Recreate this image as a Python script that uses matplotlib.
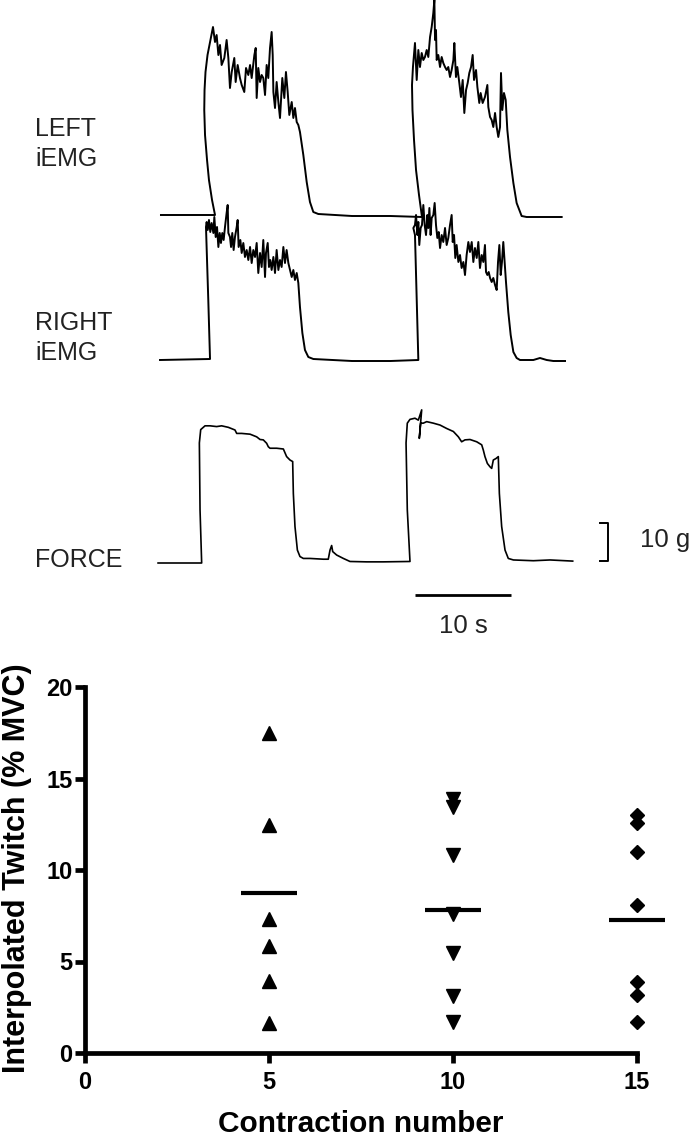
import matplotlib
matplotlib.use("Agg")
import matplotlib.pyplot as plt
import numpy as np

plt.rcParams['font.family'] = ['Liberation Sans', 'DejaVu Sans']

# ---------------- DATA ----------------
# LEFT iEMG trace: time (s), amplitude (a.u.)
left_t = [0.1, 4.7, 5.73, 5.42, 5.10, 4.90, 4.69, 4.61, 4.64, 4.74, 4.95, 5.21, 5.52,
          5.73, 5.90, 6.08, 6.25, 6.42, 6.70, 6.94, 7.12, 7.29, 7.47, 7.74, 7.88, 8.09, 8.33,
          8.51, 8.78, 8.96, 9.20, 9.38, 9.55, 9.83, 9.97, 10.07, 10.24, 10.42, 10.59, 10.76,
          10.94, 11.11, 11.28, 11.46, 11.63, 11.74, 11.81, 11.98, 12.15, 12.33, 12.50, 12.74,
          12.95, 13.12, 13.30, 13.47, 13.72, 13.89, 14.06, 14.24, 14.41, 14.58,
          14.93, 15.28, 15.62, 15.97, 16.49, 20.0, 24.0, 27.29,
          26.98, 26.67, 26.46, 26.30, 26.25, 26.35,
          26.56, 26.74, 26.91, 27.08, 27.26, 27.43, 27.60, 27.78, 27.95, 28.13, 28.30, 28.47,
          28.58, 28.65, 28.75, 28.82, 28.99, 29.17, 29.34, 29.51, 29.69, 29.86, 30.03, 30.21,
          30.38, 30.56, 30.66, 30.83, 30.97, 31.18, 31.35, 31.53, 31.70, 31.88, 32.05, 32.22,
          32.40, 32.57, 32.71, 32.92, 33.06, 33.26, 33.40, 33.61, 33.85, 34.10, 34.20, 34.38,
          34.55, 34.72, 34.90, 35.07, 35.24, 35.42, 35.52, 35.66, 35.83, 36.01, 36.18,
          36.46, 36.81, 37.15, 37.67, 38.19, 41.84]
left_a = [0, 0, 0, 15, 35, 55, 80, 105, 125, 143, 160, 173, 188,
          173, 180, 160, 170, 150, 157, 175, 157, 127, 143, 157, 133, 150, 137,
          130, 123, 147, 140, 150, 137, 160, 167, 117, 147, 133, 140, 137,
          120, 150, 137, 167, 183, 160, 123, 107, 133, 113, 97, 137,
          117, 143, 123, 100, 113, 97, 107, 93, 90, 83,
          60, 33, 13, 3, 1, -1, -1, -2,
          20, 45, 75, 105, 130, 148,
          172, 135, 165, 148, 162, 155, 158, 165, 158, 178, 188, 202,
          215, 175, 185, 155, 160, 148, 158, 152, 148, 145, 148, 138,
          145, 155, 172, 138, 148, 132, 118, 135, 102, 125, 132, 142,
          148, 160, 135, 145, 128, 112, 122, 112, 118, 130, 108, 98,
          95, 88, 102, 88, 78, 88, 142, 105, 122, 115, 85,
          58, 32, 12, -1, -2, -2]

# RIGHT iEMG trace: time (s), amplitude (a.u.)
right_t = [0.0, 5.21, 5.03, 4.86, 4.79, 4.86,
           4.97, 5.10, 5.24, 5.38, 5.56, 5.66, 5.80, 5.94, 6.08, 6.22, 6.35, 6.49, 6.63, 6.77,
           6.94, 7.05, 7.12, 7.29, 7.40, 7.53, 7.67, 7.81, 7.99, 8.09, 8.19, 8.37, 8.51, 8.68,
           8.85, 9.03, 9.20, 9.38, 9.55, 9.72, 9.90, 10.07, 10.24, 10.42, 10.59, 10.76, 10.94,
           11.04, 11.22, 11.35, 11.49, 11.63, 11.81, 11.98, 12.15, 12.33, 12.50, 12.67, 12.85,
           13.02, 13.19, 13.37, 13.54, 13.72, 13.89, 14.06, 14.24, 14.41,
           14.58, 14.83, 15.10, 15.45, 15.97, 20.0, 24.0, 26.91,
           26.56, 26.39, 26.56,
           26.67, 26.81, 26.91, 27.01, 27.15, 27.29, 27.43, 27.57, 27.71, 27.85, 27.95, 28.06,
           28.19, 28.30, 28.47, 28.61, 28.75, 28.89, 29.03, 29.17, 29.34, 29.51, 29.69, 29.86,
           30.03, 30.21, 30.38, 30.49, 30.63, 30.76, 30.90, 31.08, 31.25, 31.42, 31.60, 31.77,
           31.94, 32.12, 32.29, 32.47, 32.64, 32.81, 32.99, 33.16, 33.33, 33.51, 33.68, 33.85,
           33.96, 34.10, 34.24, 34.38, 34.55, 34.72, 34.90, 35.07, 35.21, 35.35, 35.49, 35.62,
           35.76, 35.90, 36.04,
           36.28, 36.53, 36.81, 37.15, 37.50, 38.89, 39.58, 40.28, 40.97, 42.19]
right_a = [-1, 0, 59, 109, 132, 137,
           129, 139, 127, 136, 126, 142, 122, 132, 112, 126, 116, 126, 119, 132,
           146, 154, 126, 122, 112, 126, 109, 122, 132, 139, 112, 119, 106, 116,
           102, 109, 99, 112, 96, 109, 102, 116, 86, 106, 92, 119, 82,
           106, 116, 92, 99, 89, 102, 86, 109, 89, 99, 92, 112,
           96, 109, 96, 89, 82, 89, 79, 86, 76,
           52, 26, 9, 2, 0, -2, -2, -1,
           124, 131, 134,
           144, 124, 137, 114, 131, 134, 154, 134, 124, 144, 131, 151,
           124, 141, 144, 156, 134, 121, 127, 111, 124, 117, 131, 114,
           121, 134, 144, 117, 124, 101, 114, 97, 104, 91, 97, 84,
           104, 117, 107, 117, 97, 111, 101, 117, 91, 104, 97, 114,
           87, 84, 87, 81, 77, 81, 74, 69, 97, 114, 84, 97,
           117, 97, 77,
           47, 24, 7, 1, -1, -1, 1, -1, -2, -2]

# FORCE trace: time (s), force (g)
force_t = [-0.2, 4.34, 4.17, 4.10, 4.24, 4.69, 5.21, 5.90, 6.42, 7.12, 7.81, 7.99, 8.51,
           9.38, 10.07, 10.42, 10.76, 11.11, 11.28, 11.46, 12.15, 12.85, 13.19, 13.54, 13.82,
           13.89, 14.06, 14.31, 14.58, 14.93, 15.62, 17.01, 17.53, 17.71, 17.88, 17.99, 18.40,
           19.10, 19.79, 21.53, 23.26, 26.04,
           25.76, 25.63, 25.76, 26.04, 26.56, 26.91, 27.26, 27.01, 27.15, 27.43, 27.78, 28.47,
           29.17, 29.86, 30.56, 31.08, 31.42, 31.77, 32.29, 32.99, 33.51, 33.68, 33.85, 34.10,
           34.38, 34.55, 34.72, 35.00, 35.24,
           35.35, 35.59, 35.94, 36.28, 36.81, 38.89, 40.63, 42.99]
force_g = [0.0, 0.0, 14.0, 31.6, 35.1, 36.1, 36.1, 35.9, 36.1, 35.7, 35.0, 34.1, 34.1,
           33.9, 33.2, 32.5, 32.4, 31.5, 30.6, 30.2, 30.2, 30.0, 28.0, 27.1, 26.7,
           18.3, 9.6, 3.4, 1.7, 1.2, 1.2, 1.0, 1.0, 3.4, 4.6, 3.0, 2.1,
           1.2, 0.4, 0.3, 0.3, 0.4,
           14.0, 31.6, 36.8, 37.8, 38.1, 37.6, 40.3, 32.8, 36.8, 36.8, 37.2, 36.8,
           36.3, 35.4, 34.6, 33.2, 31.9, 32.4, 32.5, 31.9, 31.1, 29.7, 28.0, 26.2,
           25.3, 24.9, 27.1, 27.5, 28.0,
           18.3, 9.6, 3.4, 1.2, 0.8, 0.6, 0.8, 0.5]

trace_labels = ["LEFT\niEMG", "RIGHT\niEMG", "FORCE"]
time_bar_s = 10
force_bar_g = 10

# Interpolated twitch data (% MVC)
contractions = [5, 10, 15]
twitch_c5 = [17.5, 12.45, 7.3, 5.85, 3.95, 1.62]
twitch_c10 = [13.9, 13.45, 10.8, 7.6, 5.45, 3.1, 1.71]
twitch_c15 = [13.0, 12.55, 10.96, 8.09, 3.86, 3.17, 1.71]
twitch_means = [8.76, 7.81, 7.27]
x_ticks = [0, 5, 10, 15]
y_ticks = [0, 5, 10, 15, 20]

# ---------------- FIGURE ----------------
W, H = 690, 1136
fig = plt.figure(figsize=(W / 100, H / 100), dpi=100)

# --- top: traces ---
px_per_s = 9.6
t0_px = 160
top_h = 640
ax_t = fig.add_axes([0, 1 - top_h / H, 1, top_h / H])
ax_t.set_xlim(-t0_px / px_per_s, (W - t0_px) / px_per_s)
ax_t.set_ylim(0, top_h)
ax_t.axis('off')

base_left, base_right, base_force = 425, 281, 77
force_gain = 3.8  # a.u. per gram

lw_tr = 1.4
ax_t.plot(left_t, base_left + np.array(left_a), color='black', lw=lw_tr, clip_on=False,
          solid_joinstyle='round')
ax_t.plot(right_t, base_right + np.array(right_a), color='black', lw=lw_tr, clip_on=False,
          solid_joinstyle='round')
ax_t.plot(force_t, base_force + force_gain * np.array(force_g), color='black', lw=1.2,
          clip_on=False, solid_joinstyle='round')

# time scale bar
tb0 = 26.56
ax_t.plot([tb0, tb0 + time_bar_s], [45, 45], color='black', lw=2.0, solid_capstyle='butt')
ax_t.text(tb0 + time_bar_s / 2, 14, f"{time_bar_s} s", ha='center', va='center',
          fontsize=18.5, color='#222222')

# force scale bar "]"
fb_x0, fb_x1 = 45.83, 46.67
fb_y0 = 79
fb_y1 = fb_y0 + force_gain * force_bar_g
ax_t.plot([fb_x0, fb_x1, fb_x1, fb_x0], [fb_y1, fb_y1, fb_y0, fb_y0], color='black', lw=1.4)
ax_t.text(50.0, (fb_y0 + fb_y1) / 2 + 2, f"{force_bar_g} g", ha='left', va='center',
          fontsize=18.5, color='#222222')

# trace labels
label_baselines = [136, 330, 567]
for lab, yb in zip(trace_labels, label_baselines):
    lines = lab.split("\n")
    for i, ln in enumerate(lines):
        fig.text(35 / W, 1 - (yb + 30 * i) / H, ln, ha='left', va='baseline',
                 fontsize=18, color='#222222')

# --- bottom: scatter ---
ax = fig.add_axes([85 / W, (H - 1053) / H, 552 / W, 366 / H])
ax.set_xlim(0, 15)
ax.set_ylim(0, 20)
for s in ['top', 'right']:
    ax.spines[s].set_visible(False)
for s in ['left', 'bottom']:
    ax.spines[s].set_linewidth(3.4)
    ax.spines[s].set_capstyle('projecting')

ms_tri = 10.5
ax.plot([contractions[0]] * len(twitch_c5), twitch_c5, linestyle='none', marker='^',
        ms=ms_tri, color='black', clip_on=False)
ax.plot([contractions[1]] * len(twitch_c10), twitch_c10, linestyle='none', marker='v',
        ms=ms_tri, color='black', clip_on=False)
ax.plot([contractions[2]] * len(twitch_c15), twitch_c15, linestyle='none', marker='D',
        ms=7.2, color='black', clip_on=False)
half_w = 0.76
for c, m in zip(contractions, twitch_means):
    ax.plot([c - half_w, c + half_w], [m, m], color='black', lw=3.0,
            solid_capstyle='butt', clip_on=False)

ax.set_xticks(x_ticks)
ax.set_yticks(y_ticks)
ax.tick_params(axis='both', direction='out', length=7, width=3.4, labelsize=17)
ax.tick_params(axis='x', pad=6)
ax.tick_params(axis='y', pad=2)
for lab in ax.get_xticklabels() + ax.get_yticklabels():
    lab.set_fontweight('bold')

ax.set_xlabel("Contraction number", fontsize=21.5, fontweight='bold')
ax.xaxis.set_label_coords(0.5, -0.155)
ax.set_ylabel("Interpolated Twitch (% MVC)", fontsize=22, fontweight='bold')
ax.yaxis.set_label_coords(-0.123, 0.505)
ax.yaxis.label.set_va('center')

fig.savefig("out.png", dpi=100)
